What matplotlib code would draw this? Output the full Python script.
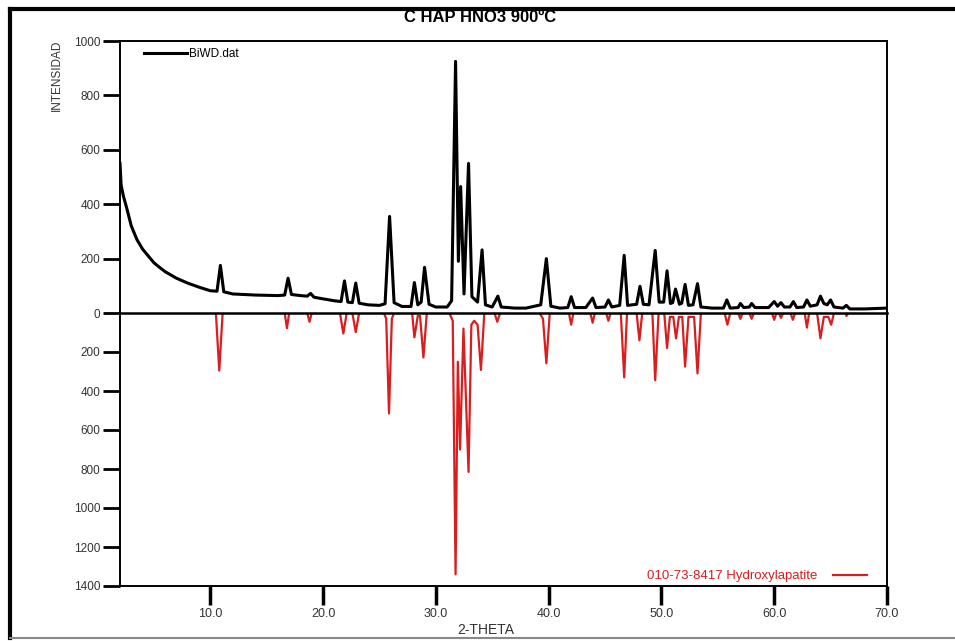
import matplotlib.pyplot as plt
from matplotlib.lines import Line2D

plt.rcParams['font.family'] = ['Liberation Sans', 'DejaVu Sans']

theta_exp = [2.0, 2.1, 2.3, 2.6, 3.0, 3.5, 4.0, 4.5, 5.0, 5.5, 6.0, 7.0, 8.0, 9.0,
             10.0, 10.6, 10.9, 11.2, 12.0, 13.0, 14.0, 15.0, 16.0, 16.6, 16.9, 17.2,
             18.0, 18.6, 18.9, 19.2, 20.0, 21.0, 21.6, 21.9, 22.2, 22.6, 22.9, 23.2,
             24.0, 25.0, 25.5, 25.9, 26.3, 27.0, 27.8, 28.1, 28.4, 28.7, 29.0, 29.4,
             30.0, 31.0, 31.4, 31.75, 32.0, 32.2, 32.5, 32.9, 33.2, 33.7, 34.1, 34.4,
             35.0, 35.5, 35.8, 37.0, 38.0, 39.3, 39.8, 40.2, 41.0, 41.7, 42.0, 42.3,
             43.3, 43.9, 44.2, 45.0, 45.3, 45.6, 46.3, 46.7, 47.0, 47.8, 48.1, 48.4,
             48.9, 49.45, 49.8, 50.2, 50.5, 50.8, 51.0, 51.25, 51.6, 51.8, 52.1, 52.4,
             52.8, 53.2, 53.5, 54.5, 55.5, 55.8, 56.1, 56.8, 57.0, 57.3, 57.8, 58.0,
             58.3, 59.5, 60.0, 60.3, 60.6, 60.9, 61.4, 61.7, 62.0, 62.6, 62.9, 63.2,
             63.8, 64.1, 64.4, 64.7, 65.0, 65.3, 66.1, 66.4, 66.7, 68.0, 70.0]
counts_exp = [550, 470, 430, 385, 320, 270, 235, 210, 185, 168, 152, 128, 110, 95,
              82, 80, 175, 78, 70, 68, 66, 65, 64, 66, 128, 68,
              64, 62, 72, 58, 52, 45, 42, 118, 40, 38, 110, 36,
              30, 28, 34, 355, 38, 24, 24, 112, 30, 40, 168, 32,
              22, 22, 45, 925, 190, 465, 70, 550, 60, 40, 232, 30,
              22, 62, 22, 18, 18, 30, 200, 25, 18, 20, 60, 20,
              20, 55, 20, 22, 48, 22, 28, 212, 28, 32, 98, 32,
              30, 230, 40, 40, 155, 35, 38, 88, 32, 36, 105, 28,
              30, 108, 22, 18, 18, 48, 18, 20, 35, 20, 22, 35,
              20, 20, 42, 25, 38, 22, 22, 42, 20, 22, 48, 25,
              30, 62, 35, 30, 48, 22, 18, 28, 15, 15, 18]

# reference card 010-73-8417, drawn downward
theta_ref = [2.0, 10.5, 10.8, 11.1, 16.6, 16.8, 17.0, 18.6, 18.8, 19.0,
             21.5, 21.8, 22.1, 22.6, 22.9, 23.2, 25.4, 25.6, 25.85, 26.1, 26.3,
             27.9, 28.1, 28.4, 28.6, 28.9, 29.2, 31.2, 31.5, 31.75, 31.95, 32.15,
             32.45, 32.9, 33.15, 33.4, 33.7, 34.0, 34.3, 35.2, 35.45, 35.7,
             39.2, 39.5, 39.8, 40.1, 41.8, 42.0, 42.2, 43.7, 43.9, 44.1, 45.1, 45.3,
             45.5, 46.4, 46.7, 46.95, 47.8, 48.05, 48.3, 49.2, 49.45, 49.75, 50.25,
             50.5, 50.75, 51.05, 51.3, 51.55, 51.85, 52.1, 52.4, 52.9, 53.2, 53.5,
             55.6, 55.85, 56.1, 56.8, 57.0, 57.2, 57.8, 58.0, 58.2, 59.8, 60.0, 60.2,
             60.4, 60.6, 60.8, 61.45, 61.65, 61.85, 62.7, 62.9, 63.1, 63.8, 64.1,
             64.4, 64.8, 65.05, 65.3, 66.3, 66.4, 66.6, 70.0]
counts_ref = [0, 0, 295, 0, 0, 78, 0, 0, 45, 0,
              0, 105, 0, 0, 98, 0, 0, 30, 515, 30, 0,
              0, 125, 15, 15, 228, 0, 0, 40, 1340, 250, 700,
              80, 815, 60, 40, 60, 292, 0, 0, 45, 0,
              0, 30, 258, 0, 0, 60, 0, 0, 50, 0, 0, 40,
              0, 0, 330, 0, 0, 140, 0, 0, 345, 0, 0,
              180, 20, 20, 130, 20, 20, 275, 20, 20, 310, 0,
              0, 60, 0, 0, 30, 0, 0, 30, 0, 0, 35, 0,
              0, 25, 0, 0, 35, 0, 0, 75, 0, 0, 130,
              20, 20, 60, 0, 0, 15, 0, 0]

x_ticks = [10, 20, 30, 40, 50, 60, 70]
top_ticks = [0, 200, 400, 600, 800, 1000]
bottom_ticks = [200, 400, 600, 800, 1000, 1200, 1400]

W, H = 955, 641
fig = plt.figure(figsize=(W / 100, H / 100), dpi=100)

left, right = 120 / W, 887 / W
ax_top = fig.add_axes([left, 1 - 313 / H, right - left, (313 - 41) / H])
ax_bot = fig.add_axes([left, 1 - 586 / H, right - left, (586 - 313) / H], sharex=ax_top)
# keep the black zero line above the red trace
ax_top.set_zorder(2)
ax_top.patch.set_alpha(0)

# outer frame of the picture
fig.add_artist(Line2D([10 / W, 10 / W], [1 - 638 / H, 1 - 9 / H], color='black', lw=3))
fig.add_artist(Line2D([10 / W, 1.0], [1 - 9 / H, 1 - 9 / H], color='black', lw=3))
fig.add_artist(Line2D([10 / W, 1.0], [1 - 638 / H, 1 - 638 / H], color='#888888', lw=1.5))

tick_col = '#333333'
red = '#d81e1e'

ax_top.plot(theta_exp, counts_exp, color='black', lw=2.2, label='BiWD.dat')
ax_top.set_xlim(2, 70)
ax_top.set_ylim(0, 1000)
ax_top.set_yticks(top_ticks)
ax_top.tick_params(axis='y', direction='out', length=12, width=2, labelsize=8.5,
                   labelcolor=tick_col, pad=2)
ax_top.tick_params(axis='x', bottom=False, labelbottom=False)
for s in ax_top.spines.values():
    s.set_linewidth(1.4)
ax_top.spines['bottom'].set_linewidth(1.8)
ax_top.legend(loc='upper left', bbox_to_anchor=(0.018, 1.012), frameon=False,
              fontsize=8.5, handlelength=3.6, handletextpad=0.2)

ax_bot.plot(theta_ref, counts_ref, color=red, lw=1.6,
            label='010-73-8417 Hydroxylapatite')
ax_bot.set_ylim(1400, 0)
ax_bot.set_yticks(bottom_ticks)
ax_bot.tick_params(axis='y', direction='out', length=12, width=2, labelsize=8.5,
                   labelcolor=tick_col, pad=2)
ax_bot.set_xticks(x_ticks)
ax_bot.set_xticklabels([f'{t:.1f}' for t in x_ticks])
ax_bot.tick_params(axis='x', direction='out', length=14, width=2.5, labelsize=9,
                   labelcolor=tick_col, pad=2)
ax_bot.spines['top'].set_visible(False)
for s in ax_bot.spines.values():
    s.set_linewidth(1.4)
ax_bot.legend(loc='lower right', bbox_to_anchor=(0.99, -0.03), frameon=False,
              fontsize=9.5, handlelength=2.6, handletextpad=1.2, markerfirst=False,
              labelcolor=red)

fig.text(0.503, 1 - 18 / H, 'C HAP HNO3 900ºC', ha='center', va='center',
         fontsize=12, fontweight='bold')
fig.text(57 / W, 1 - 75 / H, 'INTENSIDAD', rotation=90, ha='center', va='center',
         fontsize=8.5, color=tick_col)
fig.text(486 / W, 1 - 630 / H, '2-THETA', ha='center', va='center',
         fontsize=10, color=tick_col)

fig.savefig('out.png', dpi=100)
